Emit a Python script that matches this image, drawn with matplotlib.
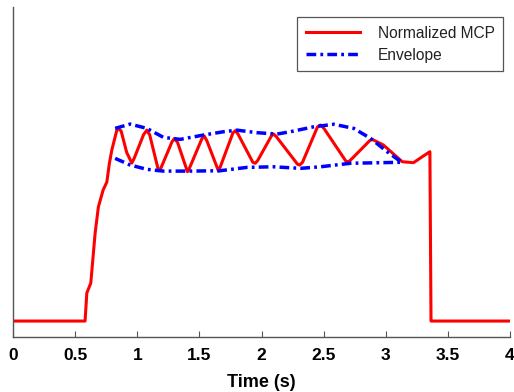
import numpy as np
import matplotlib
matplotlib.use("Agg")
import matplotlib.pyplot as plt

plt.rcParams['font.family'] = ['Liberation Sans', 'DejaVu Sans']
plt.rcParams['lines.scale_dashes'] = False

# Normalized MCP trace (time in s, normalized amplitude)
mcp_t = [0.0, 0.58, 0.594, 0.626, 0.661, 0.687, 0.725, 0.755, 0.776, 0.795, 0.84,
         0.87, 0.915, 0.956, 0.975, 1.05, 1.077, 1.10, 1.171, 1.19, 1.28, 1.300,
         1.325, 1.404, 1.42, 1.52, 1.539, 1.56, 1.654, 1.67, 1.77, 1.789, 1.81,
         1.93, 1.950, 1.97, 2.08, 2.098, 2.12, 2.29, 2.307, 2.33, 2.45, 2.474,
         2.50, 2.68, 2.702, 2.73, 2.87, 2.890, 2.981, 3.132, 3.223, 3.293, 3.355,
         3.364, 4.0]
mcp_v = [0.0, 0.0, 0.143, 0.194, 0.449, 0.582, 0.668, 0.709, 0.806, 0.872, 0.985,
         0.97, 0.86, 0.806, 0.83, 0.95, 0.974, 0.95, 0.767, 0.78, 0.915, 0.932,
         0.91, 0.762, 0.78, 0.93, 0.944, 0.92, 0.765, 0.79, 0.96, 0.971, 0.955,
         0.81, 0.805, 0.82, 0.945, 0.954, 0.94, 0.80, 0.796, 0.81, 0.99, 1.000,
         0.985, 0.815, 0.813, 0.83, 0.92, 0.927, 0.898, 0.813, 0.808, 0.838, 0.864,
         0.0, 0.0]

# upper envelope
up_t = [0.822, 0.943, 1.077, 1.211, 1.346, 1.533, 1.695, 1.803, 1.964, 2.125,
        2.232, 2.420, 2.581, 2.742, 2.877, 3.011, 3.132]
up_v = [0.983, 1.005, 0.983, 0.937, 0.927, 0.949, 0.966, 0.974, 0.961, 0.954,
        0.966, 0.991, 1.004, 0.983, 0.932, 0.864, 0.808]

# lower envelope
lo_t = [0.822, 0.943, 1.077, 1.211, 1.426, 1.668, 1.883, 2.098, 2.313, 2.474,
        2.716, 2.957, 3.132]
lo_v = [0.830, 0.796, 0.774, 0.765, 0.765, 0.767, 0.784, 0.787, 0.779, 0.787,
        0.805, 0.808, 0.810]

fig = plt.figure(figsize=(5.14, 3.92), dpi=100)
ax = fig.add_axes([0.0253, 0.141, 0.967, 0.841])

env_dash = (7, 3, 2, 3)
ax.plot(mcp_t, mcp_v, color='#ff0000', linewidth=2.2, label='Normalized MCP')
ax.plot(up_t, up_v, color='#0000ff', linewidth=2.5, dashes=env_dash, label='Envelope')
ax.plot(lo_t, lo_v, color='#0000ff', linewidth=2.5, dashes=env_dash)

ax.set_xlim(0, 4)
ax.set_ylim(-0.08, 1.602)
ax.set_xticks(np.arange(0, 4.01, 0.5))
ax.set_xticklabels(['0', '0.5', '1', '1.5', '2', '2.5', '3', '3.5', '4'],
                   fontweight='bold', fontsize=12.5)
ax.set_yticks([])
ax.tick_params(axis='x', direction='in', length=4, width=0.8, colors='#555555',
               labelcolor='black', pad=8)
for s in ['top', 'right']:
    ax.spines[s].set_visible(False)
for s in ['left', 'bottom']:
    ax.spines[s].set_color('#555555')
    ax.spines[s].set_linewidth(1.0)
ax.set_xlabel('Time (s)', fontweight='bold', fontsize=13, labelpad=8)

leg = ax.legend(loc='upper right', bbox_to_anchor=(0.986, 0.970), borderaxespad=0,
                fontsize=11.2, handlelength=3.5, handletextpad=1.1, labelspacing=0.45,
                fancybox=False, framealpha=1, edgecolor='#555555', borderpad=0.55)
leg.get_frame().set_linewidth(0.9)
for t in leg.get_texts():
    t.set_color('#222222')

fig.savefig('out.png', dpi=100)
